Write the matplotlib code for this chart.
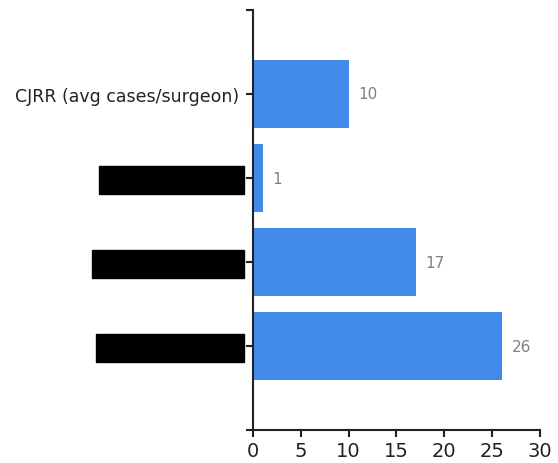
import matplotlib.pyplot as plt

# categories top to bottom (three labels are redacted in the source)
categories = ['CJRR (avg cases/surgeon)', 'redacted labels', 'redacted label b', 'redacted label r']
values = [10, 1, 17, 26]
x_ticks = [0, 5, 10, 15, 20, 25, 30]

bar_color = '#418AEA'

fig = plt.figure(figsize=(5.58, 4.64), dpi=100)
ax = fig.add_axes([0.4534, 0.0711, 0.5143, 0.9052])

pos = list(range(len(categories)))
bars = ax.barh(pos, values, height=0.8, color=bar_color)
for b, v in zip(bars, values):
    ax.annotate(str(v), (b.get_width(), b.get_y() + b.get_height() / 2),
                xytext=(7, 0), textcoords='offset points', va='center', ha='left',
                fontsize=11, color='#808080', family='DejaVu Sans')

ax.set_xlim(0, 30)
ax.set_ylim(4, -1)
ax.set_xticks(x_ticks)
ax.set_xticklabels([str(t) for t in x_ticks], fontsize=14, color='#222222')

ax.set_yticks([-1] + pos + [4])
ax.set_yticklabels([''] + categories + [''], fontsize=12.5, color='#222222')
for lab in ax.get_yticklabels()[2:5]:
    lab.set_color('black')
    lab.set_bbox(dict(facecolor='black', edgecolor='black', pad=3.5))

for s in ['top', 'right']:
    ax.spines[s].set_visible(False)
for s in ['left', 'bottom']:
    ax.spines[s].set_linewidth(1.5)
    ax.spines[s].set_color('#222222')
ax.tick_params(axis='both', length=5, width=1.5, color='#222222')
ax.tick_params(axis='y', pad=5)
ax.tick_params(axis='x', pad=3)

fig.savefig('out.png', dpi=100)
